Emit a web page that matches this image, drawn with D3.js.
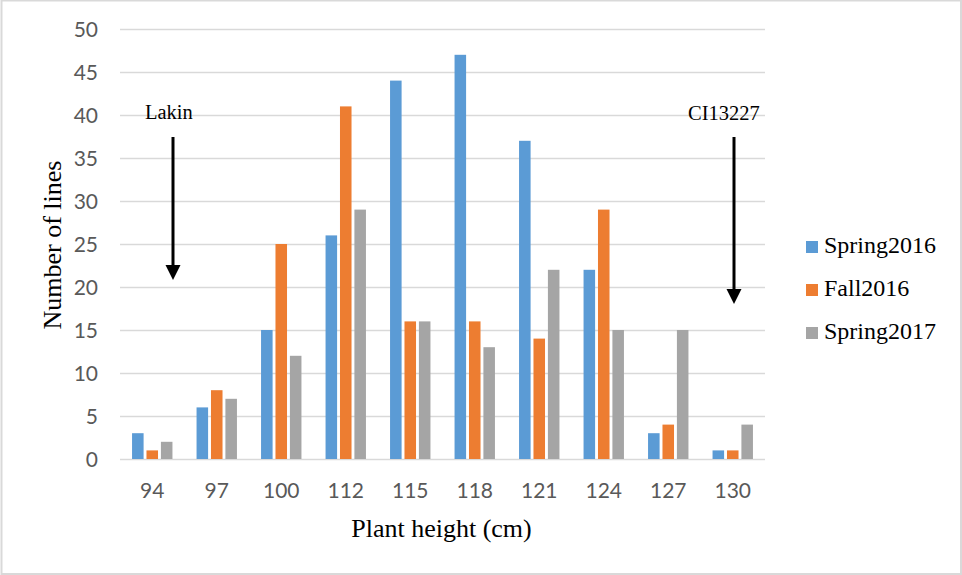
<!DOCTYPE html>
<html>
<head>
<meta charset="utf-8">
<script src="https://cdn.jsdelivr.net/npm/d3@7"></script>
<style>
  html, body { margin: 0; padding: 0; background: #fff; }
  svg { display: block; }
</style>
</head>
<body>
<svg id="chart" width="962" height="575"></svg>
<script>
// Plant height classes (cm)
const categories = ["94", "97", "100", "112", "115", "118", "121", "124", "127", "130"];
const seriesNames = ["Spring2016", "Fall2016", "Spring2017"];
const spring2016 = [3, 6, 15, 26, 44, 47, 37, 22, 3, 1];
const fall2016   = [1, 8, 25, 41, 16, 16, 14, 29, 4, 1];
const spring2017 = [2, 7, 12, 29, 16, 13, 22, 15, 15, 4];
const yTicks = [0, 5, 10, 15, 20, 25, 30, 35, 40, 45, 50];
const colors = ["#5B9BD5", "#ED7D31", "#A5A5A5"];

const seriesValues = [spring2016, fall2016, spring2017];
const rows = categories.map((c, i) => ({
  cat: c,
  values: seriesNames.map((s, k) => ({ series: s, value: seriesValues[k][i] }))
}));

const svg = d3.select("#chart");
const W = 962, H = 575;

// outer chart frame
svg.append("rect")
  .attr("x", 1.5).attr("y", 0.5)
  .attr("width", W - 2.5).attr("height", H - 1.5)
  .attr("fill", "#fff").attr("stroke", "#d9d9d9").attr("stroke-width", 2);

const plot = { left: 120, right: 765, top: 29, bottom: 459 };

const x = d3.scaleBand().domain(categories).range([plot.left, plot.right]).padding(0);
const groupW = 40.4;
const x1 = d3.scaleBand().domain(seriesNames)
  .range([-groupW / 2, groupW / 2]).paddingInner(0.2).paddingOuter(0);
const y = d3.scaleLinear().domain([0, 50]).range([plot.bottom, plot.top]);
const color = d3.scaleOrdinal().domain(seriesNames).range(colors);

// horizontal gridlines + y tick labels via axis
const yAxis = d3.axisLeft(y).tickValues(yTicks).tickSize(-(plot.right - plot.left)).tickPadding(22);
const gy = svg.append("g").attr("transform", `translate(${plot.left},0)`).call(yAxis);
gy.select(".domain").remove();
gy.selectAll(".tick line").attr("stroke", "#d9d9d9").attr("stroke-width", 1.5);
gy.selectAll(".tick text")
  .attr("fill", "#595959")
  .attr("font-family", "Lato, 'Open Sans', sans-serif")
  .attr("font-size", 21)
  .attr("dy", "0.36em");

// bars
const groups = svg.append("g").selectAll("g")
  .data(rows).join("g")
  .attr("transform", d => `translate(${x(d.cat) + x.bandwidth() / 2},0)`);
groups.selectAll("rect")
  .data(d => d.values).join("rect")
  .attr("x", d => x1(d.series))
  .attr("width", x1.bandwidth())
  .attr("y", d => y(d.value))
  .attr("height", d => y(0) - y(d.value))
  .attr("fill", d => color(d.series));

// x axis labels
const xAxis = d3.axisBottom(x).tickSize(0).tickPadding(0);
const gx = svg.append("g").attr("transform", `translate(0,${plot.bottom})`).call(xAxis);
gx.select(".domain").remove();
gx.selectAll(".tick text")
  .attr("fill", "#595959")
  .attr("font-family", "Lato, 'Open Sans', sans-serif")
  .attr("font-size", 21)
  .attr("y", 39)
  .attr("dy", 0);

// axis titles
svg.append("text")
  .attr("x", (plot.left + plot.right) / 2 - 1).attr("y", 537)
  .attr("text-anchor", "middle")
  .attr("font-family", "'Liberation Serif', 'Times New Roman', serif")
  .attr("font-size", 26).attr("fill", "#000")
  .text("Plant height (cm)");

svg.append("text")
  .attr("transform", "translate(61,245) rotate(-90)")
  .attr("text-anchor", "middle")
  .attr("font-family", "'Liberation Serif', 'Times New Roman', serif")
  .attr("font-size", 26).attr("fill", "#000")
  .text("Number of lines");

// legend
const legend = svg.append("g").selectAll("g")
  .data(seriesNames).join("g")
  .attr("transform", (d, i) => `translate(806,${241 + i * 43})`);
legend.append("rect").attr("width", 12).attr("height", 12).attr("fill", d => color(d));
legend.append("text")
  .attr("x", 18).attr("y", 12)
  .attr("font-family", "'Liberation Serif', 'Times New Roman', serif")
  .attr("font-size", 24).attr("fill", "#000")
  .text(d => d);

// annotation arrows marking the parents
const annotations = [
  { label: "Lakin", cat: "94", tx: 145, ty: 119, ax: 173, y0: 137, y1: 280 },
  { label: "CI13227", cat: "130", tx: 688, ty: 120, ax: 734, y0: 137, y1: 304 }
];
const ann = svg.append("g").selectAll("g").data(annotations).join("g");
ann.append("text")
  .attr("x", d => d.tx).attr("y", d => d.ty)
  .attr("font-family", "'Liberation Serif', 'Times New Roman', serif")
  .attr("font-size", 20.5).attr("fill", "#000")
  .text(d => d.label);
ann.append("line")
  .attr("x1", d => d.ax).attr("x2", d => d.ax)
  .attr("y1", d => d.y0).attr("y2", d => d.y1 - 12)
  .attr("stroke", "#000").attr("stroke-width", 3);
ann.append("path")
  .attr("d", d => `M${d.ax - 7.5},${d.y1 - 15} L${d.ax + 7.5},${d.y1 - 15} L${d.ax},${d.y1} Z`)
  .attr("fill", "#000");
</script>
</body>
</html>
